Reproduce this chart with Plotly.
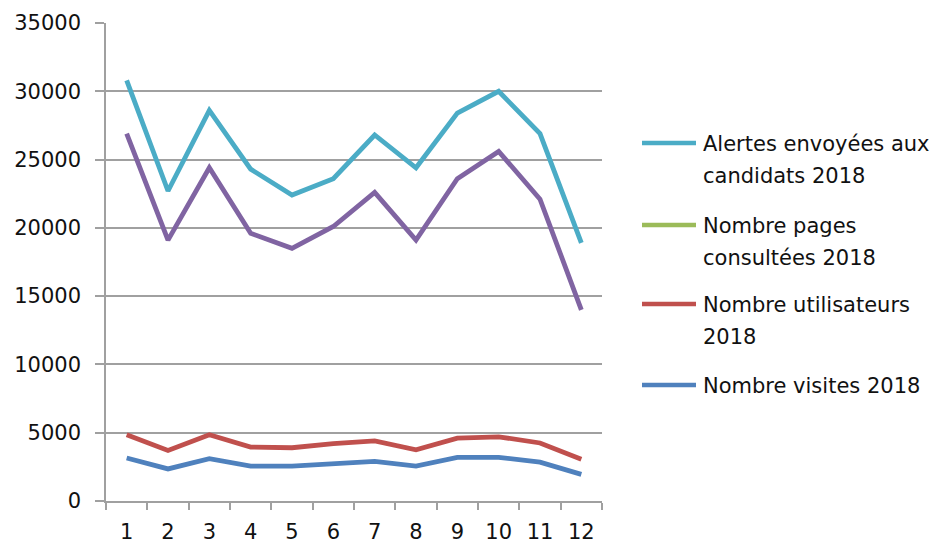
import plotly.graph_objects as go

# Monthly figures for 2018
months = [str(m) for m in range(1, 13)]
alertes = [30800, 22700, 28600, 24300, 22400, 23600, 26800, 24400, 28400, 30000, 26900, 18900]
pages = [None] * 12
sessions = [26900, 19100, 24400, 19600, 18500, 20100, 22600, 19100, 23600, 25600, 22100, 14000]
utilisateurs = [4850, 3700, 4850, 3950, 3900, 4200, 4400, 3750, 4600, 4700, 4250, 3050]
visites = [3150, 2350, 3100, 2550, 2550, 2700, 2900, 2550, 3200, 3200, 2850, 1950]

legend_items = [
    ("#4bacc6", ["Alertes envoyées aux", "candidats 2018"]),
    ("#9bbb59", ["Nombre pages", "consultées 2018"]),
    ("#c0504d", ["Nombre utilisateurs", "2018"]),
    ("#4f81bd", ["Nombre visites 2018"]),
]

FONT = "DejaVu Sans"
TEXT = "#111111"
GRID = "#a0a0a0"
W, H = 933, 546
L, R, T, B = 106, 602, 23, 501  # plot area in pixels


def px(x):
    return (x - L) / (R - L)


def py(y):
    return (B - y) / (B - T)


fig = go.Figure()
series = [
    (alertes, "#4bacc6", "Alertes envoyées aux candidats 2018"),
    (pages, "#9bbb59", "Nombre pages consultées 2018"),
    (sessions, "#8064a2", "Sessions 2018"),
    (utilisateurs, "#c0504d", "Nombre utilisateurs 2018"),
    (visites, "#4f81bd", "Nombre visites 2018"),
]
for vals, col, name in series:
    fig.add_trace(go.Scatter(
        x=months, y=vals, mode="lines", name=name,
        line=dict(color=col, width=4.8), showlegend=False,
    ))

# Legend drawn beside the plot area
shapes = []
annotations = []
entry_y = [143, 225, 304, 385]
for (col, lines), y0 in zip(legend_items, entry_y):
    shapes.append(dict(type="line", xref="paper", yref="paper",
                       x0=px(642), x1=px(696), y0=py(y0), y1=py(y0),
                       line=dict(color=col, width=4.5)))
    for i, txt in enumerate(lines):
        annotations.append(dict(xref="paper", yref="paper", x=px(701), y=py(y0 + 1 + 32 * i),
                                text=txt, showarrow=False, xanchor="left", yanchor="middle",
                                font=dict(family=FONT, size=21, color=TEXT)))

fig.update_layout(
    width=W, height=H,
    margin=dict(l=L, r=W - R, t=T, b=H - B),
    paper_bgcolor="white", plot_bgcolor="white",
    font=dict(family=FONT, size=21, color=TEXT),
    shapes=shapes, annotations=annotations,
    showlegend=False,
)
fig.update_xaxes(
    type="category", range=[-0.5, 11.5], automargin=False,
    showline=True, linecolor=GRID, linewidth=1.5,
    ticks="outside", tickson="boundaries", ticklen=7, tickcolor=GRID, tickwidth=1.5,
    showgrid=False, ticklabelstandoff=11,
    tickfont=dict(family=FONT, size=21, color=TEXT),
)
fig.update_yaxes(
    range=[0, 35000], dtick=5000, tick0=0, tickformat="d", automargin=False,
    showline=True, linecolor=GRID, linewidth=1.5,
    ticks="outside", ticklen=9, tickcolor=GRID, tickwidth=1.5,
    showgrid=True, gridcolor=GRID, gridwidth=1.5, zeroline=False,
    ticklabelstandoff=10,
    tickfont=dict(family=FONT, size=21, color=TEXT),
)

fig.write_html("out.html")
